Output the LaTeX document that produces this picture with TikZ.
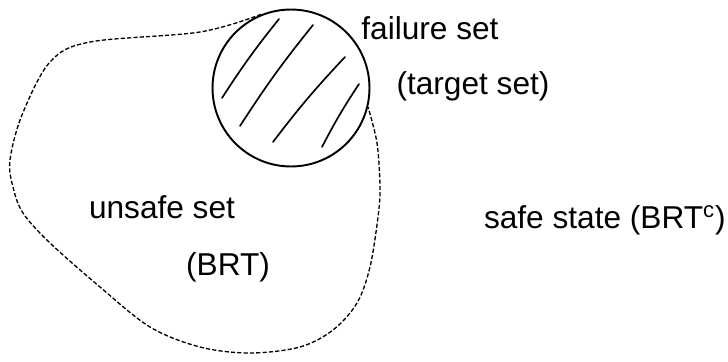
\documentclass[tikz,border=0pt]{standalone}
\usepackage{fontspec}
\setmainfont{Liberation Sans}
\begin{document}
\begin{tikzpicture}[x=0.02cm,y=-0.02cm,
  hand/.style={font=\fontsize{18}{22}\selectfont, inner sep=0pt},
  setline/.style={dash pattern=on 2.4pt off 1.2pt, line width=0.75pt}]
\useasboundingbox (0,0) rectangle (728,362);
\node[draw, circle, line width=1.1pt, minimum size=3.14cm, inner sep=0pt] (fail) at (291,88) {};
\foreach \ax/\ay/\bx/\by in {222/98/279/19, 240/126/313/25, 273/142/345/57, 322/147/359/84}{
  \draw[line width=0.95pt, line cap=round] (\ax,\ay) to[bend left=3] (\bx,\by);}
\draw[setline] plot[smooth, tension=0.55] coordinates {(fail.112) (200,32) (90,42) (50,62) (22,115) (10,160) (13,187) (23,213) (50,243) (100,287) (150,327) (200,347) (250,353) (300,347) (333,330) (357,303) (370,267) (378,217) (380,187) (377,143) (fail.-14)};
\node[hand] (failure) at (430,28) {failure set};
\node[hand] (target) at (473,86) {(target set)};
\node[hand] (unsafe) at (162,207) {unsafe set};
\node[hand] (brt) at (228,267) {(BRT)};
\node[hand, anchor=east] (safe) at (726,220) {safe state (BRT\textsuperscript{c})};
\end{tikzpicture}
\end{document}
